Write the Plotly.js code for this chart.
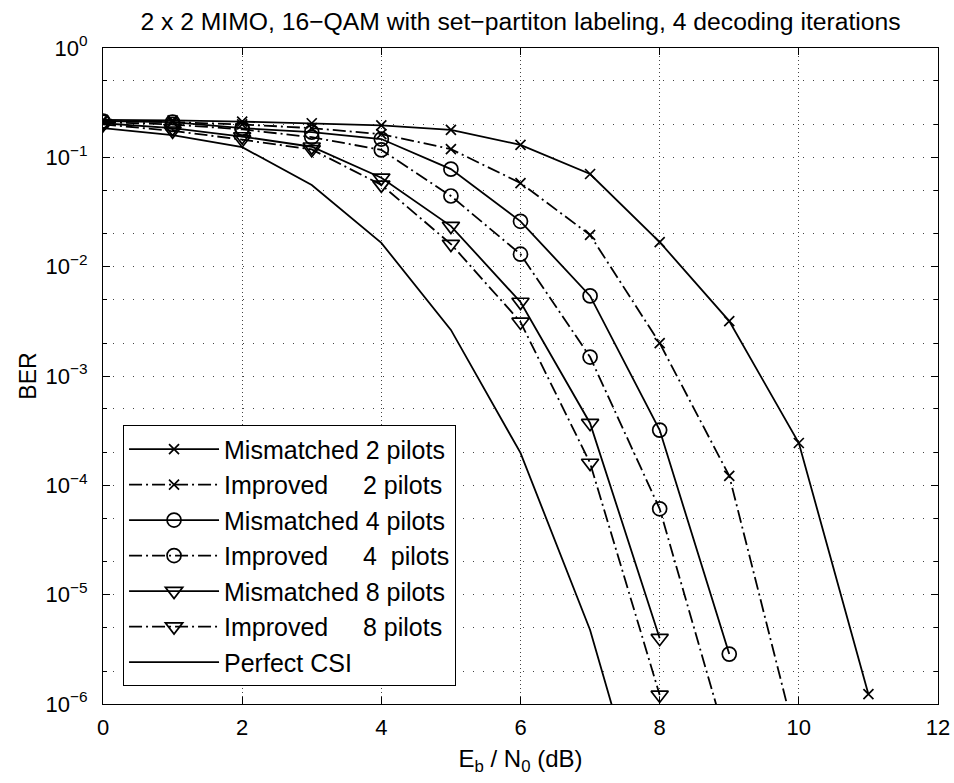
<!DOCTYPE html>
<html>
<head>
<meta charset="utf-8">
<script src="https://cdn.plot.ly/plotly-3.0.1.min.js"></script>
<style>html,body{margin:0;padding:0;background:#fff;}#chart{width:954px;height:783px;}</style>
</head>
<body>
<div id="chart"></div>
<script>
// ---- data ----
const ebn0_mis2 = [0,1,2,3,4,5,6,7,8,9,10,11];
const ber_mis2  = [0.22,0.218,0.212,0.205,0.196,0.178,0.13,0.0704,0.0168,0.00318,2.44e-4,1.23e-6];

const ebn0_imp2 = [0,1,2,3,4,5,6,7,8,9,10];
const ber_imp2  = [0.215,0.21,0.2,0.185,0.163,0.119,0.0582,0.0195,0.002,1.22e-4,3.7e-7];

const ebn0_mis4 = [0,1,2,3,4,5,6,7,8,9];
const ber_mis4  = [0.215,0.21,0.185,0.17,0.147,0.078,0.026,0.0054,3.2e-4,2.86e-6];

const ebn0_imp4 = [0,1,2,3,4,5,6,7,8,9];
const ber_imp4  = [0.21,0.2,0.18,0.153,0.117,0.0443,0.013,0.00149,6.1e-5,3.8e-7];

const ebn0_mis8 = [0,1,2,3,4,5,6,7,8];
const ber_mis8  = [0.205,0.185,0.155,0.125,0.065,0.0235,0.00475,3.7e-4,4.0e-6];

const ebn0_imp8 = [0,1,2,3,4,5,6,7,8];
const ber_imp8  = [0.2,0.175,0.145,0.118,0.056,0.0161,0.00312,1.6e-4,1.21e-6];

const ebn0_csi = [0,1,2,3,4,5,6,7,8];
const ber_csi  = [0.185,0.16,0.124,0.0558,0.0165,0.00264,1.98e-4,4.75e-6,3e-8];

const NB = '\u00a0';
const seriesNames = [
  'Mismatched 2 pilots',
  'Improved' + NB.repeat(5) + '2 pilots',
  'Mismatched 4 pilots',
  'Improved' + NB.repeat(5) + '4' + NB.repeat(2) + 'pilots',
  'Mismatched 8 pilots',
  'Improved' + NB.repeat(5) + '8 pilots',
  'Perfect CSI'
];
const yTickVals = [1,1e-1,1e-2,1e-3,1e-4,1e-5,1e-6];
const yTickText = ['10<sup>0</sup>','10<sup>\u22121</sup>','10<sup>\u22122</sup>','10<sup>\u22123</sup>','10<sup>\u22124</sup>','10<sup>\u22125</sup>','10<sup>\u22126</sup>'];
const xTickVals = [0,2,4,6,8,10,12];

// ---- styling ----
const FONT = 'Liberation Sans, Arial, Helvetica, sans-serif';
const DASHDOT = '13px,4px,2px,4px';
function tr(x, y, name, dash, symbol, size) {
  const t = {
    x: x, y: y, name: name, type: 'scatter',
    mode: symbol ? 'lines+markers' : 'lines',
    line: {color: '#000', width: 1.8, dash: dash},
    cliponaxis: true
  };
  if (symbol) t.marker = {symbol: symbol, size: size, color: '#000', line: {color: '#000', width: 1.7}};
  return t;
}
const data = [
  tr(ebn0_mis2, ber_mis2, seriesNames[0], 'solid', 'x-thin-open', 10),
  tr(ebn0_imp2, ber_imp2, seriesNames[1], DASHDOT, 'x-thin-open', 10),
  tr(ebn0_mis4, ber_mis4, seriesNames[2], 'solid', 'circle-open', 14),
  tr(ebn0_imp4, ber_imp4, seriesNames[3], DASHDOT, 'circle-open', 14),
  tr(ebn0_mis8, ber_mis8, seriesNames[4], 'solid', 'triangle-down-open', 15),
  tr(ebn0_imp8, ber_imp8, seriesNames[5], DASHDOT, 'triangle-down-open', 15),
  tr(ebn0_csi, ber_csi, seriesNames[6], 'solid', null, 0)
];

const GRIDC = '#444', GRIDD = '1px,9px';
const layout = {
  width: 954, height: 783,
  margin: {l: 103, r: 16, t: 48, b: 79, pad: 0},
  paper_bgcolor: '#fff', plot_bgcolor: '#fff',
  font: {family: FONT, color: '#000', size: 22},
  title: {text: '2 x 2 MIMO, 16\u2212QAM with set\u2212partiton labeling, 4 decoding iterations',
          font: {family: FONT, size: 24.7, color: '#000'},
          x: 0.5, xref: 'paper', xanchor: 'center', y: 1 - 21/783, yref: 'container', yanchor: 'middle'},
  xaxis: {
    range: [0, 12], tickvals: xTickVals, ticks: 'inside', ticklen: 7, tickcolor: '#000',
    showline: true, linecolor: '#000', linewidth: 1, mirror: 'ticks',
    showgrid: true, gridcolor: GRIDC, gridwidth: 1, griddash: '1px,3px',
    zeroline: false, tickfont: {size: 22}, ticklabelstandoff: 4,
    title: {text: 'E<sub>b</sub> / N<sub>0</sub> (dB)', font: {size: 24}, standoff: 10}
  },
  yaxis: {
    type: 'log', range: [-6, 0], tickvals: yTickVals, ticktext: yTickText,
    ticks: 'inside', ticklen: 7, tickcolor: '#000',
    showline: true, linecolor: '#000', linewidth: 1, mirror: 'ticks',
    showgrid: true, gridcolor: GRIDC, gridwidth: 1, griddash: GRIDD,
    zeroline: false, tickfont: {size: 22}, ticklabelstandoff: 10,
    minor: {ticks: 'inside', ticklen: 4, tickcolor: '#000', showgrid: true,
            gridcolor: GRIDC, gridwidth: 1, griddash: GRIDD},
    title: {text: 'BER', font: {size: 23}, standoff: 2}
  },
  showlegend: true,
  legend: {
    x: 0.024, y: 0.027, xanchor: 'left', yanchor: 'bottom',
    bgcolor: '#fff', bordercolor: '#000', borderwidth: 1,
    font: {family: FONT, size: 25, color: '#000'},
    itemwidth: 90, tracegroupgap: 0
  }
};
Plotly.newPlot('chart', data, layout, {staticPlot: true, displayModeBar: false});
</script>
</body>
</html>
